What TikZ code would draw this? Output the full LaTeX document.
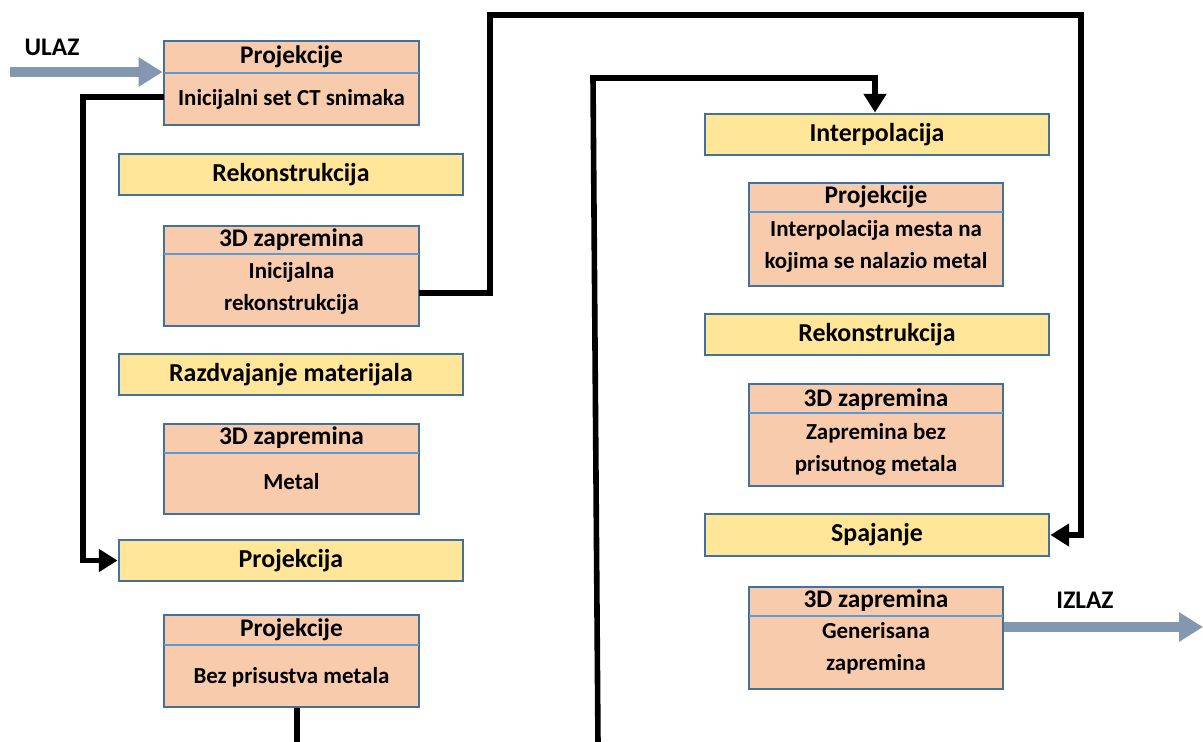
\documentclass[tikz,border=0pt]{standalone}
\usepackage{fontspec}
\setmainfont{Carlito}
\usetikzlibrary{arrows.meta,fit}
\definecolor{boxfill}{HTML}{F8CBAD}
\definecolor{stepfill}{HTML}{FFE699}
\definecolor{boxline}{HTML}{41719C}
\definecolor{divline}{HTML}{5B9BD5}
\definecolor{ioarrow}{HTML}{8497B0}
\tikzset{
  databox/.style={draw=boxline, line width=2.2pt, fill=boxfill, inner sep=0pt},
  stepbox/.style={draw=boxline, line width=2.2pt, fill=stepfill, inner sep=0pt},
  divider/.style={draw=divline, line width=1.6pt},
  titletext/.style={font=\bfseries\fontsize{19}{22}\selectfont, inner sep=0pt},
  bodytext/.style={font=\bfseries\fontsize{17.2}{24}\selectfont, align=center, inner sep=0pt},
  steptext/.style={font=\bfseries\fontsize{19.4}{22}\selectfont, inner sep=0pt},
  flow/.style={line width=4.2pt, line join=miter},
  flowarrow/.style={flow, -{Triangle[length=14pt,width=16.5pt]}},
  ioline/.style={draw=ioarrow, line width=7.5pt, -{Triangle[length=18pt,width=21pt]}},
  iolabel/.style={font=\bfseries\fontsize{19}{22}\selectfont, inner sep=0pt}
}
\begin{document}
\begin{tikzpicture}[x=0.75pt,y=-0.75pt]
\useasboundingbox (0,0) rectangle (1203,742);

% ---------- left column ----------
\node[databox, fit={(164,41) (419,125)}] (b1) {};
\draw[divider] (164,73) -- (419,73);
\node[titletext] (b1t) at (291.5,57) {Projekcije};
\node[bodytext] (b1b) at (291.5,99) {Inicijalni set CT snimaka};

\node[stepbox, fit={(119,154) (463,195)}] (s1) {};
\node[steptext] (s1t) at (s1.center) {Rekonstrukcija};

\node[databox, fit={(164,226) (419,326)}] (b2) {};
\draw[divider] (164,254) -- (419,254);
\node[titletext] (b2t) at (291.5,240) {3D zapremina};
\node[bodytext] (b2b) at (291.5,288) {Inicijalna\\rekonstrukcija};

\node[stepbox, fit={(119,354) (463,395)}] (s2) {};
\node[steptext] (s2t) at (s2.center) {Razdvajanje materijala};

\node[databox, fit={(164,424) (419,514)}] (b3) {};
\draw[divider] (164,453) -- (419,453);
\node[titletext] (b3t) at (291.5,438) {3D zapremina};
\node[bodytext] (b3b) at (291.5,482) {Metal};

\node[stepbox, fit={(119,540) (463,581)}] (s3) {};
\node[steptext] (s3t) at (s3.center) {Projekcija};

\node[databox, fit={(164,615) (419,707)}] (b4) {};
\draw[divider] (164,645) -- (419,645);
\node[titletext] (b4t) at (291.5,630) {Projekcije};
\node[bodytext] (b4b) at (291.5,677) {Bez prisustva metala};

% ---------- right column ----------
\node[stepbox, fit={(705,114) (1049,155)}] (s4) {};
\node[steptext] (s4t) at (s4.center) {Interpolacija};

\node[databox, fit={(749,183) (1003,286)}] (b5) {};
\draw[divider] (749,212) -- (1003,212);
\node[titletext] (b5t) at (876,197) {Projekcije};
\node[bodytext] (b5b) at (876,246) {Interpolacija mesta na\\kojima se nalazio metal};

\node[stepbox, fit={(705,314) (1049,355)}] (s5) {};
\node[steptext] (s5t) at (s5.center) {Rekonstrukcija};

\node[databox, fit={(749,384) (1003,486)}] (b6) {};
\draw[divider] (749,413) -- (1003,413);
\node[titletext] (b6t) at (876,400) {3D zapremina};
\node[bodytext] (b6b) at (876,449) {Zapremina bez\\prisutnog metala};

\node[stepbox, fit={(705,514) (1049,556)}] (s6) {};
\node[steptext] (s6t) at (s6.center) {Spajanje};

\node[databox, fit={(749,587) (1003,689)}] (b7) {};
\draw[divider] (749,616) -- (1003,616);
\node[titletext] (b7t) at (876,601) {3D zapremina};
\node[bodytext] (b7b) at (876,648) {Generisana\\zapremina};

% ---------- input / output ----------
\coordinate (inStart) at (10,72);
\node[iolabel] (inLbl) at (52,47) {ULAZ};
\draw[ioline] (inStart) -- (b1.west |- inStart);

\coordinate (outEnd) at (1203,627);
\node[iolabel] (outLbl) at (1085,600) {IZLAZ};
\draw[ioline] (b7.east |- outEnd) -- (outEnd);

% ---------- flow connectors ----------
\coordinate (c1a) at (164,97);
\coordinate (c1b) at (83,97);
\draw[flowarrow] (c1a) -- (c1b) |- (s3.west);

\coordinate (c2a) at (419,293);
\coordinate (c2b) at (490,293);
\coordinate (c2c) at (490,15);
\coordinate (c2d) at (1081,15);
\draw[flowarrow] (c2a) -- (c2b) -- (c2c) -- (c2d) |- (s6.east);

\coordinate (c3a) at (598,745);
\coordinate (c3b) at (593,78);
\coordinate (c3c) at (875,78);
\draw[flowarrow] (c3a) -- (c3b) -- (c3c) -- (s4.north -| c3c);

\coordinate (c4a) at (297,745);
\draw[flow] (b4.south -| c4a) -- (c4a);
\end{tikzpicture}
\end{document}
